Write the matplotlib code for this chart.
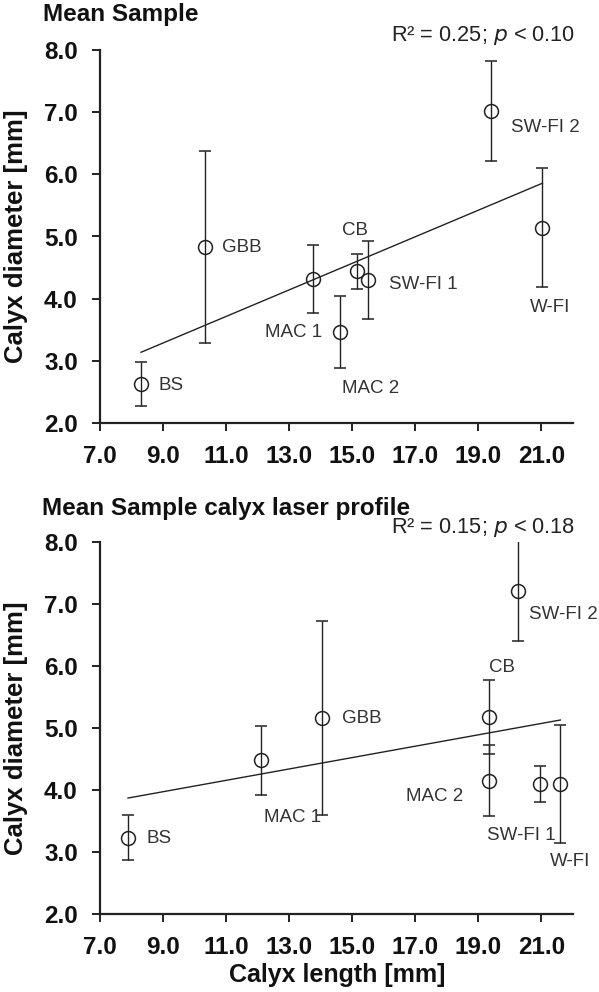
import matplotlib.pyplot as plt
import numpy as np

plt.rcParams['font.family'] = ['Liberation Sans', 'DejaVu Sans']

# sample sites (same order in both panels)
sites = ["BS", "GBB", "MAC 1", "CB", "SW-FI 1", "MAC 2", "SW-FI 2", "W-FI"]

# mean sample
len_mean = [8.30, 10.33, 13.76, 15.16, 15.51, 14.62, 19.41, 21.03]
diam_mean = [2.63, 4.83, 4.32, 4.44, 4.30, 3.47, 7.02, 5.14]
diam_sd = [0.35, 1.54, 0.55, 0.28, 0.62, 0.58, 0.80, 0.96]

# mean sample, calyx laser profile
len_laser = [7.89, 14.05, 12.11, 19.35, 20.94, 19.35, 20.24, 21.60]
diam_laser = [3.23, 5.16, 4.48, 5.18, 4.10, 4.15, 7.21, 4.10]
sd_laser = [0.36, 1.57, 0.56, 0.60, 0.29, 0.57, 0.80, 0.95]

stats_mean = "R\u00b2 = 0.25; $\\it{p}$ < 0.10"
stats_laser = "R\u00b2 = 0.15; $\\it{p}$ < 0.18"

# label anchors (data coords) and alignment for each site
lab_mean = [(8.84, 2.60, "left"), (10.88, 4.83, "left"), (14.05, 3.45, "right"),
            (15.10, 5.09, "center"), (16.18, 4.22, "left"), (14.66, 2.56, "left"),
            (20.03, 6.75, "left"), (21.27, 3.85, "center")]
lab_laser = [(8.46, 3.21, "left"), (14.66, 5.15, "left"), (13.12, 3.55, "center"),
             (19.74, 5.98, "center"), (20.35, 3.27, "center"), (17.61, 3.89, "center"),
             (20.62, 6.83, "left"), (21.90, 2.84, "center")]

fig = plt.figure(figsize=(5.99, 9.92), dpi=100)
W, H = 599, 992
ax1 = fig.add_axes([100 / W, 1 - 423 / H, 473 / W, 373 / H])
ax2 = fig.add_axes([100 / W, 1 - 914 / H, 473 / W, 372 / H])

ink = "#222222"


def panel(ax, x, y, sd, labels, stats):
    x = np.array(x)
    y = np.array(y)
    ax.errorbar(x, y, yerr=sd, fmt="o", mfc="none", mec=ink, ms=10, mew=1.1,
                ecolor=ink, elinewidth=1.0, capsize=4, capthick=1.0, zorder=3)
    k, b = np.polyfit(x, y, 1)
    xs = np.array([x.min(), x.max()])
    ax.plot(xs, k * xs + b, color=ink, lw=1.0)
    for name, (tx, ty, ha) in zip(sites, labels):
        ax.text(tx, ty, name, ha=ha, va="center", fontsize=13.5, color="#333333")
    ax.text(22.06, 8.24, stats, ha="right", va="center", fontsize=15.7,
            color="#222222", clip_on=False)
    ax.set_xlim(7, 22)
    ax.set_ylim(2, 8)
    ax.set_xticks(np.arange(7, 22, 2))
    ax.set_xticklabels([f"{v:.1f}" for v in np.arange(7, 22, 2)])
    ax.set_yticks(np.arange(2, 9, 1))
    ax.set_yticklabels([f"{v:.1f}" for v in np.arange(2, 9, 1)])
    for s in ("top", "right"):
        ax.spines[s].set_visible(False)
    for s in ("left", "bottom"):
        ax.spines[s].set_linewidth(1.6)
        ax.spines[s].set_color(ink)
    ax.tick_params(direction="out", length=6, width=1.4, color=ink, pad=10,
                   labelsize=17.5, labelcolor="#111111")
    for t in ax.get_xticklabels() + ax.get_yticklabels():
        t.set_fontweight("bold")


panel(ax1, len_mean, diam_mean, diam_sd, lab_mean, stats_mean)
panel(ax2, len_laser, diam_laser, sd_laser, lab_laser, stats_laser)

fig.text(43 / W, 1 - 15 / H, "Mean Sample", fontsize=17.5, fontweight="bold",
         ha="left", va="center", color="#111111")
fig.text(42 / W, 1 - 508 / H, "Mean Sample calyx laser profile", fontsize=17.5,
         fontweight="bold", ha="left", va="center", color="#111111")
for yc in (236, 728):
    fig.text(16 / W, 1 - yc / H, "Calyx diameter [mm]", rotation=90, fontsize=18.5,
             fontweight="bold", ha="center", va="center", color="#111111")
fig.text(337 / W, 1 - 975 / H, "Calyx length [mm]", fontsize=18,
         fontweight="bold", ha="center", va="center", color="#111111")

fig.savefig("out.png", dpi=100)
